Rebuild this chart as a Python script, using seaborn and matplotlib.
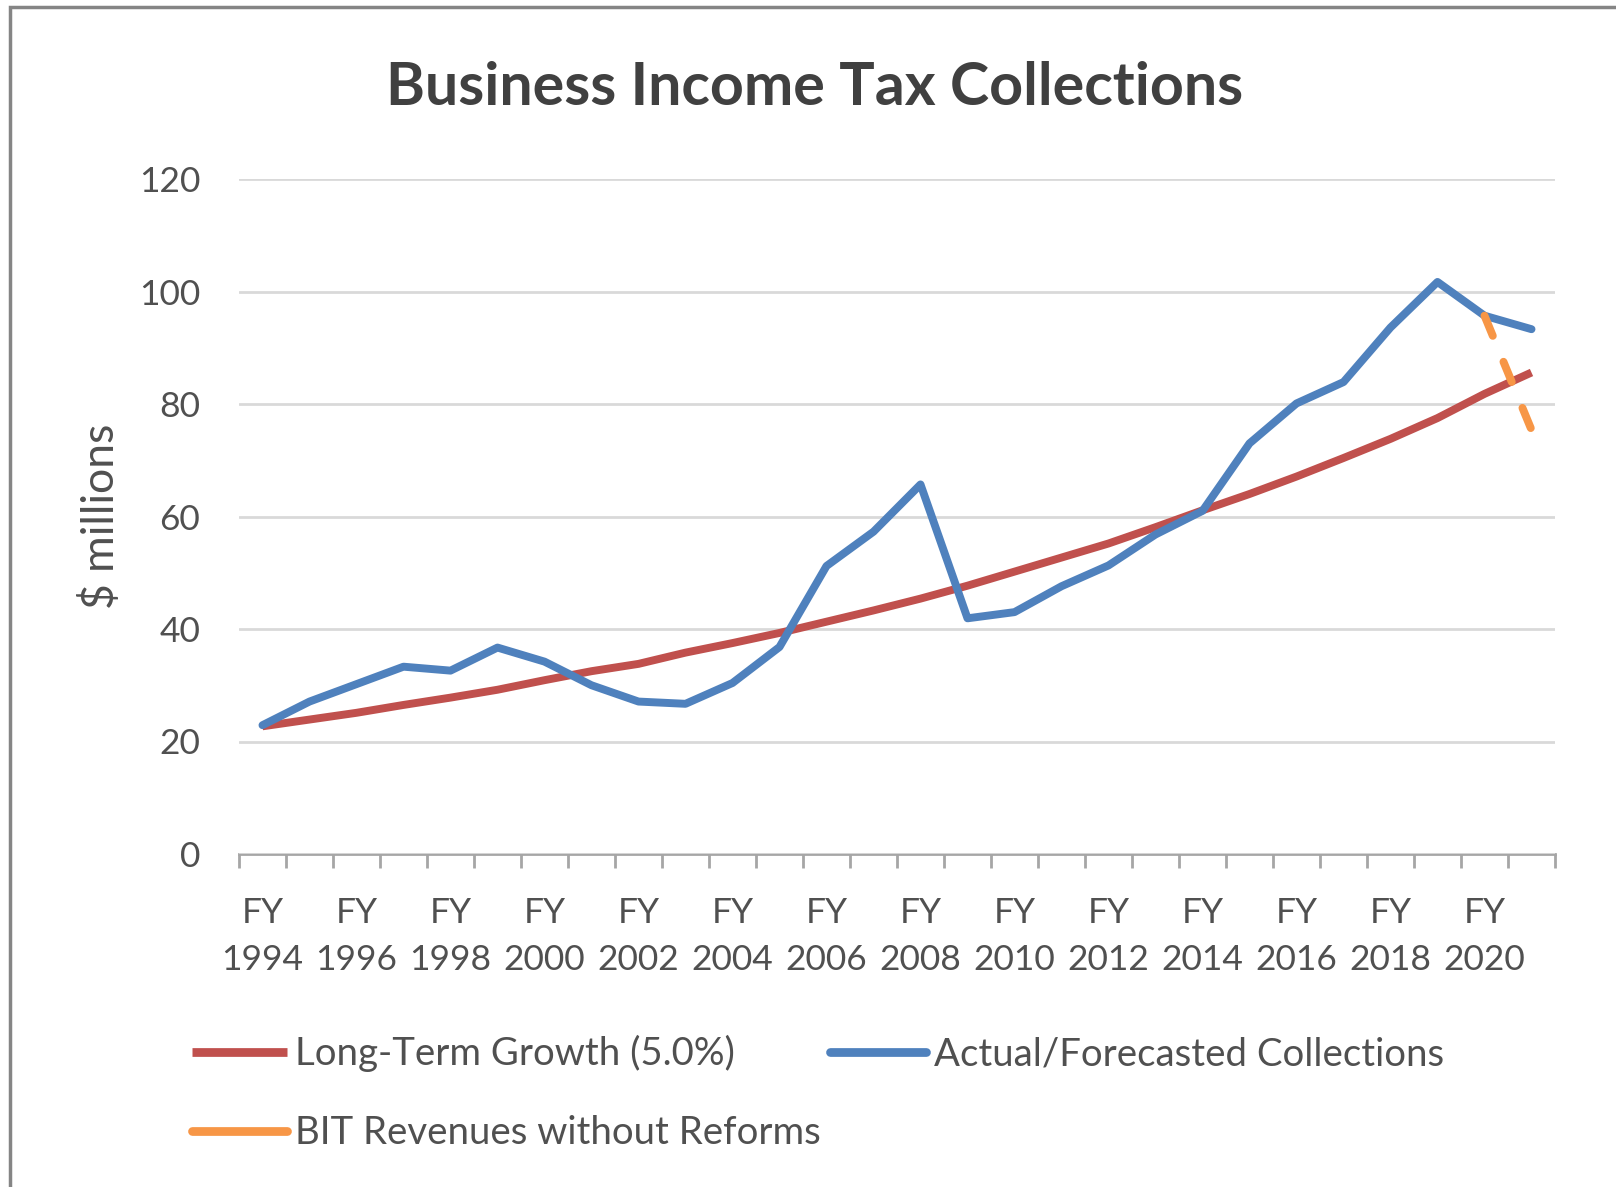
import matplotlib
matplotlib.use("Agg")
import matplotlib.pyplot as plt
from matplotlib.lines import Line2D
from matplotlib.patches import Rectangle
import seaborn as sns
import pandas as pd
import numpy as np

# ---- data ----
fiscal_years = [f"FY {y}" for y in range(1994, 2022)]
long_term_growth = [22.7, 23.9, 25.1, 26.5, 27.8, 29.2, 30.9, 32.5, 33.8, 35.8,
                    37.5, 39.3, 41.3, 43.3, 45.4, 47.7, 50.2, 52.7, 55.2, 58.1,
                    61.1, 64.0, 67.1, 70.4, 73.8, 77.5, 81.8, 85.6]
actual_forecast = [22.9, 27.1, 30.2, 33.3, 32.6, 36.7, 34.2, 30.0, 27.1, 26.7,
                   30.4, 36.8, 51.2, 57.3, 65.7, 41.9, 43.0, 47.6, 51.3, 56.8,
                   61.0, 73.0, 80.1, 83.9, 93.6, 101.7, 95.7, 93.3]
without_reforms_years = ["FY 2020", "FY 2021"]
without_reforms = [95.7, 75.4]
series_names = ["Long-Term Growth (5.0%)", "Actual/Forecasted Collections",
                "BIT Revenues without Reforms"]
y_ticks = [0, 20, 40, 60, 80, 100, 120]

RED, BLUE, ORANGE = "#C0504D", "#4F81BD", "#F79646"
TXT = "#505050"
LW = 5.7

sns.set_theme(style="white")
plt.rcParams["font.family"] = ["Lato", "DejaVu Sans"]

pos = {fy: i for i, fy in enumerate(fiscal_years)}
df = pd.DataFrame({"idx": range(len(fiscal_years)),
                   "growth": long_term_growth,
                   "actual": actual_forecast})
df_o = pd.DataFrame({"idx": [pos[f] for f in without_reforms_years],
                     "val": without_reforms})

fig = plt.figure(figsize=(16.16, 11.87), dpi=100)
ax = fig.add_axes([239/1616, 1-854/1187, (1555-239)/1616, (854-179)/1187])

sns.lineplot(data=df, x="idx", y="growth", ax=ax, color=RED, lw=LW,
             solid_capstyle="butt", solid_joinstyle="round")
sns.lineplot(data=df, x="idx", y="actual", ax=ax, color=BLUE, lw=LW,
             solid_capstyle="round", solid_joinstyle="round")
sns.lineplot(data=df_o, x="idx", y="val", ax=ax, color=ORANGE, lw=LW,
             linestyle=(0, (2.75, 3.55)), dash_capstyle="round")

ax.set_xlim(-0.5, len(fiscal_years) - 0.5)
ax.set_ylim(0, 120)
ax.set_yticks(y_ticks)
ax.set_yticklabels([str(v) for v in y_ticks])
ax.grid(axis="y", color="#D9D9D9", lw=2)
ax.set_axisbelow(True)
for s in ["top", "right", "left"]:
    ax.spines[s].set_visible(False)
ax.spines["bottom"].set_color("#A6A6A6")
ax.spines["bottom"].set_linewidth(2)
ax.spines["bottom"].set_zorder(0.5)

ax.set_xticks(np.arange(-0.5, len(fiscal_years), 1.0))
ax.set_xticklabels([])
ax.tick_params(axis="x", which="major", length=10, width=2, color="#A6A6A6",
               direction="out", bottom=True)
label_idx = list(range(0, len(fiscal_years), 2))
ax.set_xticks(label_idx, minor=True)
ax.set_xticklabels([fiscal_years[i].replace(" ", "\n") for i in label_idx],
                   minor=True, fontsize=25.5, color=TXT, linespacing=1.56)
ax.tick_params(axis="x", which="minor", length=0, pad=31)
ax.tick_params(axis="y", length=0, pad=28, labelsize=25.5, labelcolor=TXT)

ax.set_xlabel("")
ax.set_ylabel("$ millions", fontsize=32, color=TXT)
ax.yaxis.set_label_coords(-0.105, 0.5)
ax.yaxis.label.set_va("center")

fig.text(815/1616, 1-88/1187, "Business Income Tax Collections",
         ha="center", va="center", fontsize=42.6, fontweight="bold", color="#404040")

handles = [Line2D([], [], color=RED, lw=6.3, solid_capstyle="butt"),
           Line2D([], [], color=ORANGE, lw=6.3, solid_capstyle="round"),
           Line2D([], [], color=BLUE, lw=6.3, solid_capstyle="round")]
labels = [series_names[0], series_names[2], series_names[1]]
fig.legend(handles, labels, ncol=2, loc="upper left",
           bbox_to_anchor=(192/1616, 1-1035/1187), frameon=False,
           fontsize=27.6, labelcolor=TXT, handlelength=2.48, handletextpad=0.21,
           columnspacing=0.25, labelspacing=1.12, borderaxespad=0, borderpad=0)

fig.patches.append(Rectangle((10/1616, -0.1), 1.2, 1.1 - 7/1187, fill=False,
                             edgecolor="#858585", lw=2.5,
                             transform=fig.transFigure, figure=fig))

fig.savefig("out.png", dpi=100, facecolor="white")
